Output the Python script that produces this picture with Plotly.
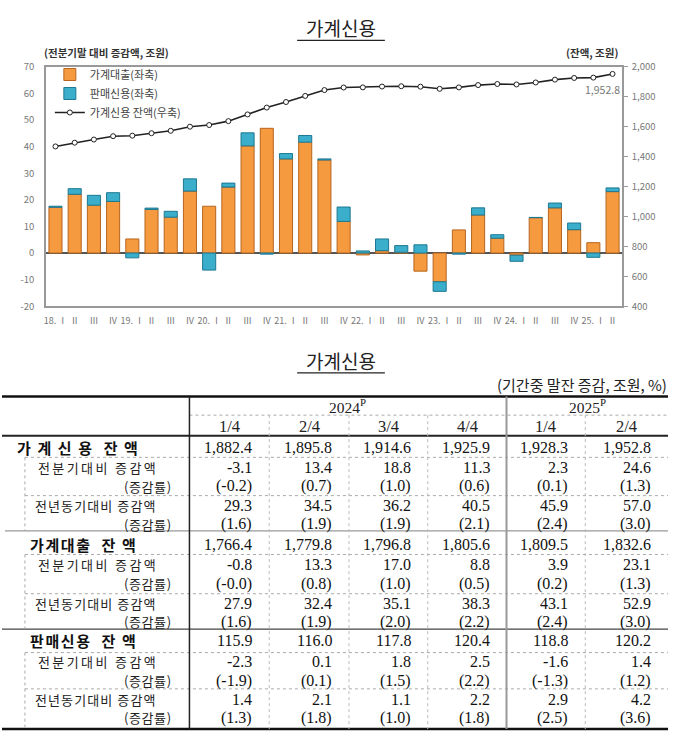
import plotly.graph_objects as go

# ---------------- chart data ----------------
quarter_labels = ["18. Ⅰ", "Ⅱ", "Ⅲ", "Ⅳ", "19. Ⅰ", "Ⅱ", "Ⅲ", "Ⅳ",
                  "20. Ⅰ", "Ⅱ", "Ⅲ", "Ⅳ", "21. Ⅰ", "Ⅱ", "Ⅲ", "Ⅳ",
                  "22. Ⅰ", "Ⅱ", "Ⅲ", "Ⅳ", "23. Ⅰ", "Ⅱ", "Ⅲ", "Ⅳ",
                  "24. Ⅰ", "Ⅱ", "Ⅲ", "Ⅳ", "25. Ⅰ", "Ⅱ"]
loan_change = [17.2, 22.1, 18.0, 19.4, 5.3, 16.4, 13.5, 23.3,
               17.6, 24.8, 40.3, 46.9, 35.4, 41.7, 35.0, 11.9,
               -0.7, 0.9, 0.3, -6.8, -10.8, 8.7, 14.3, 5.6,
               -0.8, 13.3, 17.0, 8.8, 3.9, 23.1]
sales_change = [0.4, 2.1, 3.7, 3.3, -1.8, 0.5, 2.2, 4.6,
                -6.4, 1.5, 4.9, -0.4, 2.0, 2.5, 0.4, 5.4,
                0.8, 4.4, 2.5, 3.1, -3.6, -0.4, 2.7, 1.3,
                -2.3, 0.1, 1.8, 2.5, -1.6, 1.4]
credit_balance_series = [1468.2, 1493.2, 1514.4, 1536.7, 1540.0, 1556.7, 1572.7, 1600.1,
                         1611.3, 1637.3, 1682.1, 1728.0, 1765.0, 1805.9, 1844.9, 1862.1,
                         1862.9, 1868.4, 1870.6, 1867.6, 1853.3, 1862.8, 1878.3, 1885.5,
                         1882.4, 1895.8, 1914.6, 1925.9, 1928.3, 1952.8]
left_ticks = [70, 60, 50, 40, 30, 20, 10, 0, -10, -20]
right_ticks = [2000, 1800, 1600, 1400, 1200, 1000, 800, 600, 400]

# ---------------- table data ----------------
year_headers = ["2024<sup>P</sup>", "2025<sup>P</sup>"]
quarter_headers = ["1/4", "2/4", "3/4", "4/4", "1/4", "2/4"]
row_labels = ["가 계 신 용 \u00a0잔 액", "전분기대비 증감액", "(증감률)", "전년동기대비 증감액", "(증감률)",
              "가계대출 \u00a0잔 액", "전분기대비 증감액", "(증감률)", "전년동기대비 증감액", "(증감률)",
              "판매신용 \u00a0잔 액", "전분기대비 증감액", "(증감률)", "전년동기대비 증감액", "(증감률)"]
credit_bal = ["1,882.4", "1,895.8", "1,914.6", "1,925.9", "1,928.3", "1,952.8"]
credit_qoq = ["-3.1", "13.4", "18.8", "11.3", "2.3", "24.6"]
credit_qoq_rate = ["(-0.2)", "(0.7)", "(1.0)", "(0.6)", "(0.1)", "(1.3)"]
credit_yoy = ["29.3", "34.5", "36.2", "40.5", "45.9", "57.0"]
credit_yoy_rate = ["(1.6)", "(1.9)", "(1.9)", "(2.1)", "(2.4)", "(3.0)"]
loan_bal = ["1,766.4", "1,779.8", "1,796.8", "1,805.6", "1,809.5", "1,832.6"]
loan_qoq = ["-0.8", "13.3", "17.0", "8.8", "3.9", "23.1"]
loan_qoq_rate = ["(-0.0)", "(0.8)", "(1.0)", "(0.5)", "(0.2)", "(1.3)"]
loan_yoy = ["27.9", "32.4", "35.1", "38.3", "43.1", "52.9"]
loan_yoy_rate = ["(1.6)", "(1.9)", "(2.0)", "(2.2)", "(2.4)", "(3.0)"]
sales_bal = ["115.9", "116.0", "117.8", "120.4", "118.8", "120.2"]
sales_qoq = ["-2.3", "0.1", "1.8", "2.5", "-1.6", "1.4"]
sales_qoq_rate = ["(-1.9)", "(0.1)", "(1.5)", "(2.2)", "(-1.3)", "(1.2)"]
sales_yoy = ["1.4", "2.1", "1.1", "2.2", "2.9", "4.2"]
sales_yoy_rate = ["(1.3)", "(1.8)", "(1.0)", "(1.8)", "(2.5)", "(3.6)"]
table_rows = [credit_bal, credit_qoq, credit_qoq_rate, credit_yoy, credit_yoy_rate,
              loan_bal, loan_qoq, loan_qoq_rate, loan_yoy, loan_yoy_rate,
              sales_bal, sales_qoq, sales_qoq_rate, sales_yoy, sales_yoy_rate]

W, H = 680, 741


def px(x):
    return x / W


def py(y):
    return 1 - y / H


KFONT = "Noto Sans CJK KR"
SERIF = "Liberation Serif"
xs = list(range(len(quarter_labels)))

fig = go.Figure()
fig.add_trace(go.Bar(x=xs, y=loan_change, name="가계대출(좌축)",
                     marker=dict(color="#F59A3E", line=dict(color="#B7651F", width=1))))
fig.add_trace(go.Bar(x=xs, y=sales_change, name="판매신용(좌축)",
                     marker=dict(color="#3AAECB", line=dict(color="#1D7891", width=1))))
fig.add_trace(go.Scatter(x=xs, y=credit_balance_series, name="가계신용 잔액(우축)", yaxis="y2",
                         mode="lines+markers",
                         line=dict(color="#222222", width=1.6),
                         marker=dict(symbol="circle", size=5, color="white",
                                     line=dict(color="#222222", width=1))))

x0, x1 = 44, 622
y_top, y_bot = 60, 304
fig.update_layout(
    width=W, height=H,
    margin=dict(l=0, r=0, t=0, b=0),
    paper_bgcolor="white", plot_bgcolor="white",
    barmode="relative", bargap=0.32,
    showlegend=True,
    legend=dict(x=px(48), y=py(53), xanchor="left", yanchor="top",
                bgcolor="rgba(0,0,0,0)", font=dict(family=KFONT, size=11, color="#444"),
                itemwidth=30, tracegroupgap=0),
    xaxis=dict(domain=[px(x0), px(x1)], range=[-0.5, len(xs) - 0.5],
               tickmode="array", tickvals=xs, ticktext=quarter_labels,
               tickfont=dict(family=KFONT, size=9, color="#777"),
               showgrid=False, zeroline=False, showline=True, linecolor="#999",
               linewidth=1.5, mirror=True, ticks="", ticklabelstandoff=5),
    yaxis=dict(domain=[py(y_bot), py(y_top)], range=[-20, 70],
               tickmode="array", tickvals=left_ticks, ticktext=[str(v) for v in left_ticks],
               tickfont=dict(family=KFONT, size=9.5, color="#777"),
               showgrid=False, zeroline=True, zerolinecolor="#555", zerolinewidth=2,
               showline=True, linecolor="#999", linewidth=1.5, ticks="",
               ticklabelstandoff=8),
    yaxis2=dict(overlaying="y", side="right", range=[400, 2000],
                tickmode="array", tickvals=right_ticks, ticktext=[f"{v:,}" for v in right_ticks],
                tickfont=dict(family=KFONT, size=9.5, color="#777"),
                showgrid=False, zeroline=False, showline=True, linecolor="#999",
                linewidth=1.5, ticks="outside", ticklen=4, tickcolor="#999",
                ticklabelstandoff=2),
)

ann = []
shapes = []


def text(x, y, s, anchor="left", family=KFONT, size=14, color="#222"):
    ann.append(dict(x=px(x), y=py(y), xref="paper", yref="paper", text=s, showarrow=False,
                    xanchor=anchor, yanchor="middle", borderpad=0,
                    font=dict(family=family, size=size, color=color)))


def spaced(s, sp):
    return f'<span style="letter-spacing:{sp}px">{s}</span>'


# chart title & axis titles
text(340, 20, "가계신용", "center", KFONT, 19, "#222")
shapes.append(dict(type="line", xref="paper", yref="paper", x0=px(296), x1=px(384),
                   y0=py(33), y1=py(33), line=dict(color="#222", width=1.2)))
text(41, 45, "<b>(전분기말 대비 증감액, 조원)</b>", "left", KFONT, 10.5, "#333")
text(619, 45, "<b>(잔액, 조원)</b>", "right", KFONT, 10.5, "#333")
ann.append(dict(x=xs[-1], y=credit_balance_series[-1], xref="x", yref="y2",
                text=f"{credit_balance_series[-1]:,.1f}", showarrow=False,
                xanchor="center", yanchor="top", xshift=-10, yshift=-6,
                font=dict(family=KFONT, size=10.5, color="#777")))

# table title
text(340, 359, "가계신용", "center", KFONT, 19, "#222")
shapes.append(dict(type="line", xref="paper", yref="paper", x0=px(296), x1=px(384),
                   y0=py(372), y1=py(372), line=dict(color="#222", width=1.2)))
text(668, 384, "(기간중 말잔 증감, 조원, %)", "right", KFONT, 15, "#222")


def hline(y, xa, xb, color="#222", width=1, dash="solid"):
    shapes.append(dict(type="line", xref="paper", yref="paper", x0=px(xa), x1=px(xb),
                       y0=py(y), y1=py(y), line=dict(color=color, width=width, dash=dash)))


def vline(x, ya, yb, color="#222", width=1, dash="solid"):
    shapes.append(dict(type="line", xref="paper", yref="paper", x0=px(x), x1=px(x),
                       y0=py(ya), y1=py(yb), line=dict(color=color, width=width, dash=dash)))


T_L, T_R = 0, 668
col_bounds = [188, 268, 348, 427, 506, 585, 668]
hline(396, T_L, T_R, "#111", 2.5)
hline(436, T_L, T_R, "#222", 1.8)
hline(533, 3, T_R, "#999", 1.2)
hline(633, T_L, T_R, "#444", 1.2)
hline(735, T_L, T_R, "#111", 2.5)
hline(415, 188, T_R, "#aaa", 1, "dot")
for yy in [458, 497, 557, 597, 657, 694]:
    hline(yy, 23, T_R, "#aaa", 1, "dot")
vline(188, 396, 735, "#222", 1.5)
vline(506, 396, 735, "#999", 2)
for xx in [268, 348, 427, 585]:
    vline(xx, 415, 735, "#bbb", 1, "dot")
for ya, yb in [(458, 533), (557, 633), (657, 735)]:
    vline(23, ya, yb, "#aaa", 1, "dot")

# headers
text((188 + 506) / 2, 406, year_headers[0], "center", SERIF, 15.5, "#222")
text((506 + 668) / 2, 406, year_headers[1], "center", SERIF, 15.5, "#222")
for i, q in enumerate(quarter_headers):
    cx = (col_bounds[i] + col_bounds[i + 1]) / 2
    text(cx, 427, q, "center", SERIF, 16.5, "#222")

# rows
row_y = [447.5, 468, 487.5, 507, 526,
         546.5, 567.5, 587, 606.5, 625.5,
         644.5, 666.5, 685.5, 704.5, 723.5]
for r, (lab, vals) in enumerate(zip(row_labels, table_rows)):
    yy = row_y[r]
    kind = r % 5
    if kind == 0:
        lx = 14 if r == 0 else 27
        text(lx, yy, "<b>" + spaced(lab, 1.6) + "</b>", "left", KFONT, 15, "#111")
    elif kind == 1:
        text(35, yy, spaced(lab, 2.4), "left", KFONT, 13, "#222")
    elif kind == 3:
        text(32, yy, spaced(lab, 1.1), "left", KFONT, 13, "#222")
    else:
        text(172, yy, spaced(lab, 0.6), "right", KFONT, 13, "#222")
    for c, v in enumerate(vals):
        text(col_bounds[c + 1] - 16, yy, v, "right", SERIF, 16, "#111")

fig.update_layout(annotations=ann, shapes=shapes)
fig.write_html("out.html", config={"displayModeBar": False},
               post_script="document.body.style.margin='0';")
